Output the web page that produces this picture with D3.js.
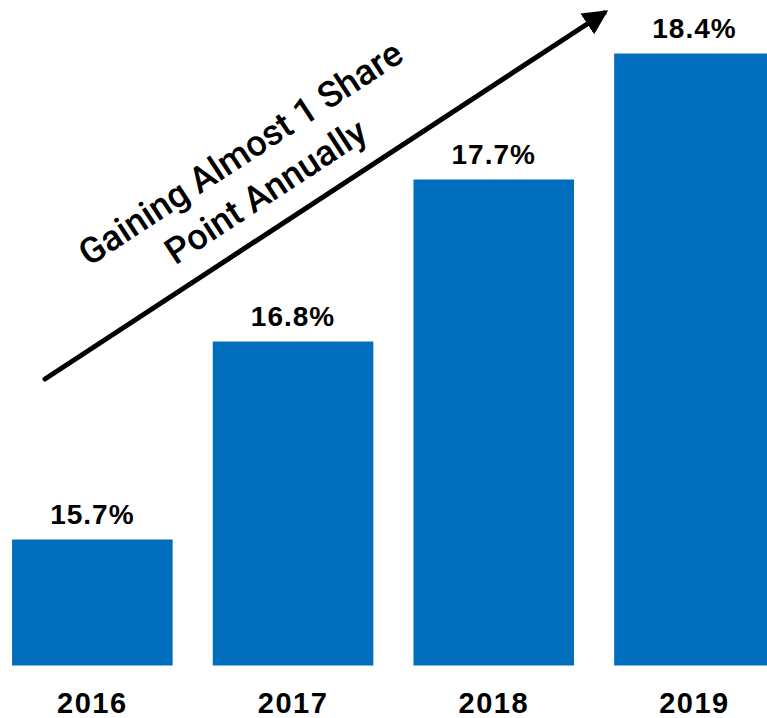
<!DOCTYPE html>
<html>
<head>
<meta charset="utf-8">
<script src="https://cdn.jsdelivr.net/npm/d3@7"></script>
<style>
  body { margin: 0; background: #fff; }
  svg { display: block; font-family: "Liberation Sans", Arial, sans-serif; }
</style>
</head>
<body>
<div id="chart"></div>
<script>
'use strict';

var years = ['2016', '2017', '2018', '2019'];
var shares = [15.7, 16.8, 17.7, 18.4];
var valueLabels = ['15.7%', '16.8%', '17.7%', '18.4%'];
var calloutLines = ['Gaining Almost 1 Share', 'Point Annually'];

var width = 767, height = 718;

var svg = d3.select('#chart')
            .append('svg')
            .attr('width', width)
            .attr('height', height);

// band scale: bars ~161px wide on ~200.7px steps, starting at x=12
var x = d3.scaleBand()
          .domain(years)
          .range([12 - 20, 12 - 20 + 4 * 200.7])
          .paddingInner(0.2)
          .paddingOuter(0.1);

// 180px per share point, baseline value 15 at y=665.5
var y = d3.scaleLinear()
          .domain([15, 19])
          .range([665.5, 665.5 - 4 * 180]);

svg.selectAll('rect.bar')
    .data(shares)
    .enter()
    .append('rect')
    .attr('class', 'bar')
    .attr('fill', '#006EBD')
    .attr('x', function(d, i) { return x(years[i]); })
    .attr('width', x.bandwidth())
    .attr('y', function(d) { return y(d); })
    .attr('height', function(d) { return y(15) - y(d); });

svg.selectAll('text.value')
    .data(shares)
    .enter()
    .append('text')
    .attr('class', 'value')
    .attr('x', function(d, i) { return x(years[i]) + x.bandwidth() / 2; })
    .attr('y', function(d) { return y(d) - 16; })
    .attr('text-anchor', 'middle')
    .attr('font-size', 28)
    .attr('font-weight', 'bold')
    .attr('letter-spacing', 1)
    .text(function(d, i) { return valueLabels[i]; });

// category axis, no line or ticks
var xAxis = svg.append('g')
    .attr('transform', 'translate(0,' + y(15) + ')')
    .call(d3.axisBottom(x).tickSize(0).tickPadding(0));
xAxis.select('.domain').remove();
xAxis.selectAll('text')
    .attr('dy', 0)
    .attr('y', 47)
    .attr('fill', '#000')
    .attr('font-family', '"Liberation Sans", Arial, sans-serif')
    .attr('font-size', 29)
    .attr('font-weight', 'bold')
    .attr('letter-spacing', 1.5);

// trend arrow
var defs = svg.append('defs');
defs.append('marker')
    .attr('id', 'head')
    .attr('viewBox', '0 0 10 10')
    .attr('refX', 8)
    .attr('refY', 5)
    .attr('markerWidth', 5)
    .attr('markerHeight', 5)
    .attr('orient', 'auto')
    .attr('markerUnits', 'strokeWidth')
    .append('path')
    .attr('d', 'M0,0 L10,5 L0,10 Z')
    .attr('fill', '#000');

svg.append('line')
    .attr('x1', 45).attr('y1', 379)
    .attr('x2', 604).attr('y2', 13)
    .attr('stroke', '#000')
    .attr('stroke-width', 5)
    .attr('stroke-linecap', 'round')
    .attr('marker-end', 'url(#head)');

var angle = Math.atan2(13 - 379, 604 - 45) * 180 / Math.PI;

var callout = svg.append('g')
    .attr('transform', 'translate(253,172) rotate(' + angle + ')');

callout.selectAll('text')
    .data(calloutLines)
    .enter()
    .append('text')
    .attr('x', 0)
    .attr('y', function(d, i) { return i * 46 - 23; })
    .attr('dy', '0.35em')
    .attr('text-anchor', 'middle')
    .attr('font-family', 'Roboto, "Liberation Sans", sans-serif')
    .attr('font-size', 36)
    .attr('font-weight', 500)
    .text(function(d) { return d; });
</script>
</body>
</html>
